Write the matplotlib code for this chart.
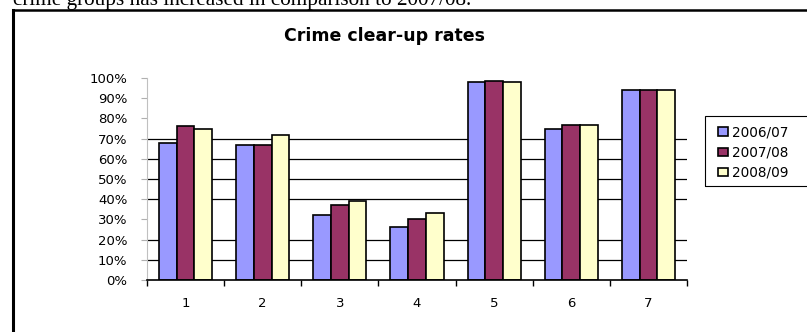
import numpy as np
import matplotlib
matplotlib.use('Agg')
import matplotlib.pyplot as plt
from matplotlib.lines import Line2D
from matplotlib.patches import Rectangle
from matplotlib.ticker import PercentFormatter

categories = ['1', '2', '3', '4', '5', '6', '7']
series_names = ['2006/07', '2007/08', '2008/09']
rates_0607 = [68, 67, 32, 26, 98, 75, 94]
rates_0708 = [76, 67, 37, 30, 98.5, 76.5, 94]
rates_0809 = [75, 72, 39, 33, 98, 76.5, 94]
y_ticks = [0, 10, 20, 30, 40, 50, 60, 70, 80, 90, 100]
grid_levels = [10, 20, 40, 50, 60, 70]   # only these lines show in the scan

colors = ['#9999FF', '#993366', '#FFFFCC']

fig = plt.figure(figsize=(8.07, 3.32), dpi=100)
ax = fig.add_axes([147 / 807, 1 - 280 / 332, 540 / 807, 202 / 332])

x = np.arange(len(categories))
w = 0.23
for i, vals in enumerate([rates_0607, rates_0708, rates_0809]):
    ax.bar(x + (i - 1) * w, vals, width=w, color=colors[i],
           edgecolor='black', linewidth=1.2, label=series_names[i], zorder=3)

for g in grid_levels:
    ax.axhline(g, color='black', linewidth=0.9, zorder=1)

ax.set_xlim(-0.5, len(categories) - 0.5)
ax.set_ylim(0, 100)
ax.set_yticks(y_ticks)
ax.yaxis.set_major_formatter(PercentFormatter(decimals=0))
ax.tick_params(axis='y', length=4, width=0.8, color='#b0b0b0', pad=10,
               labelsize=9.5)

ax.set_xticks(np.arange(len(categories) + 1) - 0.5)
ax.set_xticklabels([])
ax.set_xticks(x, minor=True)
ax.set_xticklabels(categories, minor=True)
ax.tick_params(axis='x', which='major', length=4, width=1, color='black')
ax.tick_params(axis='x', which='minor', length=0, pad=12, labelsize=9.5)

for s in ['top', 'right']:
    ax.spines[s].set_visible(False)
ax.spines['left'].set_color('#c0c0c0')
ax.spines['bottom'].set_color('black')
ax.spines['bottom'].set_linewidth(1.2)
ax.spines['bottom'].set_zorder(4)

fig.text(384 / 807, 1 - 36 / 332, 'Crime clear-up rates', ha='center',
         va='center', fontsize=12.5, fontweight='bold')

# cut-off line of surrounding document text
fig.text(13 / 807, 1 - 5 / 332,
         'crime groups has increased in comparison to 2007/08.',
         ha='left', va='baseline', fontsize=15.3, family='Liberation Serif')

# document frame lines
fig.add_artist(Line2D([13 / 807, 1], [1 - 10 / 332, 1 - 10 / 332],
                      transform=fig.transFigure, color='black', linewidth=1.8))
fig.add_artist(Line2D([13 / 807, 13 / 807], [0, 1 - 10 / 332],
                      transform=fig.transFigure, color='black', linewidth=2.2))

# legend frame running off the right edge
fig.add_artist(Rectangle((705 / 807, 1 - 186 / 332), 120 / 807, 70 / 332,
                         transform=fig.transFigure, fill=False,
                         edgecolor='black', linewidth=0.8))
fig.legend(loc='upper left', bbox_to_anchor=(708 / 807, 1 - 116 / 332),
           frameon=False, fontsize=9.8, handlelength=0.8, handleheight=0.6,
           handletextpad=0.3, labelspacing=0.45, borderpad=0.2)

fig.savefig('out.png', dpi=100)
